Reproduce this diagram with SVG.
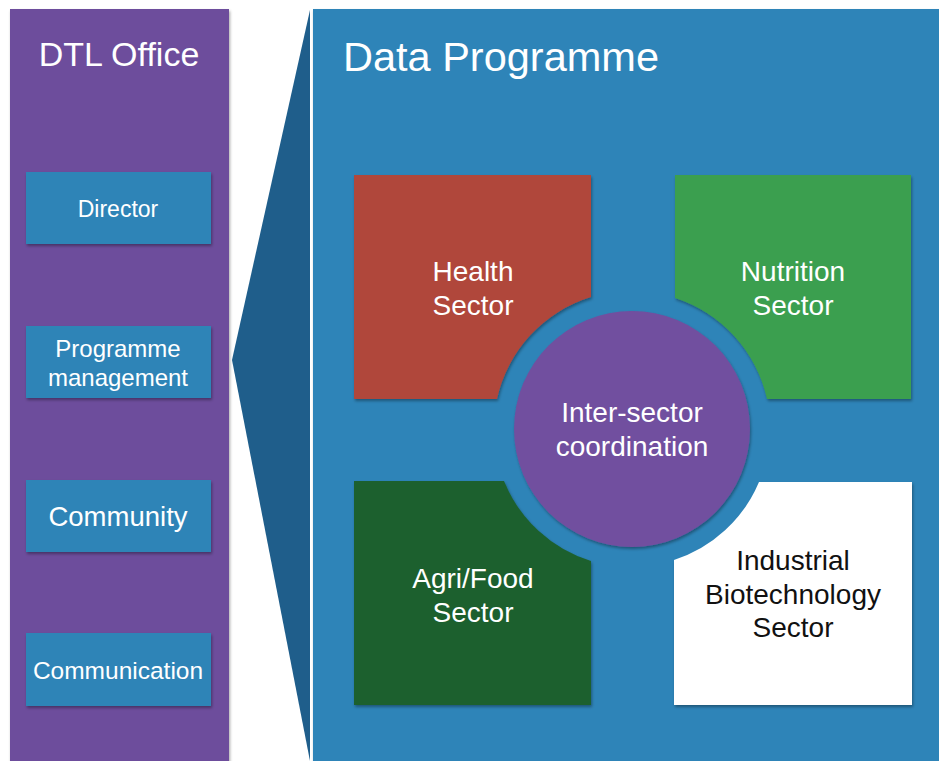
<svg xmlns="http://www.w3.org/2000/svg" width="939" height="761" viewBox="0 0 939 761">
<defs>
<filter id="sh" x="-10%" y="-10%" width="120%" height="120%">
<feDropShadow dx="1" dy="2" stdDeviation="1.5" flood-color="#000" flood-opacity="0.35"/>
</filter>
<style>
text{font-family:"Liberation Sans",Arial,sans-serif;fill:#fff;text-anchor:middle}
.lbox{fill:#2e84b7;filter:url(#sh)}
.sec{font-size:28px}
</style>
</defs>
<rect width="939" height="761" fill="#fff"/>
<g id="dtl-office">
<rect x="10" y="9" width="219" height="760" fill="#6d4d9c" filter="url(#sh)"/>
<text x="119" y="66" style="font-size:34px">DTL Office</text>
</g>
<g id="data-programme">
<rect x="313" y="9" width="630" height="760" fill="#2f84b8" filter="url(#sh)"/>
<text x="343" y="71" style="font-size:41.5px;text-anchor:start">Data Programme</text>
</g>
<g id="connectors">
<polygon points="310,10 232,360 310,761" fill="#1f5e8b"/>
</g>
<g id="director">
<rect class="lbox" x="26" y="172" width="185" height="72"/>
<text x="118" y="217" style="font-size:23px">Director</text>
</g>
<g id="programme-management">
<rect class="lbox" x="26" y="326" width="185" height="72"/>
<text x="118" y="357" style="font-size:24px">Programme</text>
<text x="118" y="386" style="font-size:24px">management</text>
</g>
<g id="community">
<rect class="lbox" x="26" y="480" width="185" height="72"/>
<text x="118" y="526" style="font-size:27.5px">Community</text>
</g>
<g id="communication">
<rect class="lbox" x="26" y="633" width="185" height="73"/>
<text x="118" y="679" style="font-size:24.5px">Communication</text>
</g>
<g id="health-sector">
<path d="M354,175 H591 V297 A138,138 0 0,0 497,399 H354 Z" fill="#b0473a" filter="url(#sh)"/>
<text class="sec" x="473" y="281">Health</text>
<text class="sec" x="473" y="315">Sector</text>
</g>
<g id="nutrition-sector">
<path d="M675,175 H911 V399 H767 A138,138 0 0,0 675,298 Z" fill="#3a9f4f" filter="url(#sh)"/>
<text class="sec" x="793" y="281">Nutrition</text>
<text class="sec" x="793" y="315">Sector</text>
</g>
<g id="agri-food-sector">
<path d="M354,481 H504 A138,138 0 0,0 591,561 V705 H354 Z" fill="#1c612f" filter="url(#sh)"/>
<text class="sec" x="473" y="588">Agri/Food</text>
<text class="sec" x="473" y="622">Sector</text>
</g>
<g id="industrial-biotechnology-sector">
<path d="M759,482 H912 V705 H674 V560 A138,138 0 0,0 759,482 Z" fill="#fff" filter="url(#sh)"/>
<text class="sec" x="793" y="570" style="fill:#111">Industrial</text>
<text class="sec" x="793" y="604" style="fill:#111">Biotechnology</text>
<text class="sec" x="793" y="637" style="fill:#111">Sector</text>
</g>
<g id="inter-sector-coordination">
<circle cx="632" cy="429" r="118" fill="#714f9f" filter="url(#sh)"/>
<text class="sec" x="632" y="422">Inter-sector</text>
<text class="sec" x="632" y="456">coordination</text>
</g>
</svg>
